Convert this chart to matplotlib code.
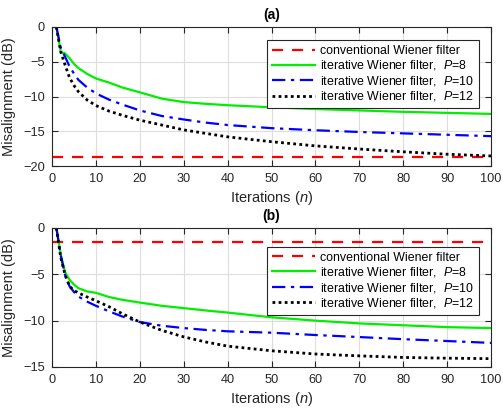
import numpy as np
import matplotlib
matplotlib.use('Agg')
import matplotlib.pyplot as plt

plt.rcParams['font.family'] = ['Liberation Sans', 'DejaVu Sans']
plt.rcParams['mathtext.fontset'] = 'custom'
plt.rcParams['mathtext.it'] = 'Liberation Sans:italic'
plt.rcParams['mathtext.rm'] = 'Liberation Sans'

n_pts = [1, 2, 3, 4, 5, 6, 8, 10, 13, 16, 20, 25, 30, 35, 40, 50, 60, 70, 80, 90, 100]

# (a)
wiener_a = -18.7
p8_a = [0, -3.6, -3.8, -4.5, -5.3, -5.9, -6.75, -7.4, -8.0, -8.7, -9.4, -10.3, -10.8, -11.05, -11.25,
        -11.55, -11.8, -12.0, -12.2, -12.35, -12.5]
p10_a = [0, -3.0, -4.3, -5.7, -6.7, -7.6, -8.7, -9.55, -10.45, -11.15, -12.0, -12.8, -13.3, -13.75, -14.1,
         -14.55, -14.85, -15.1, -15.3, -15.5, -15.7]
p12_a = [0, -3.6, -5.5, -7.3, -8.4, -9.3, -10.5, -11.3, -12.1, -12.7, -13.4, -14.1, -14.8, -15.3, -15.8,
         -16.5, -17.1, -17.55, -17.95, -18.3, -18.55]

# (b)
wiener_b = -1.55
p8_b = [0, -2.9, -4.8, -5.6, -6.1, -6.5, -6.85, -7.0, -7.45, -7.75, -8.05, -8.4, -8.65, -8.9, -9.13,
        -9.64, -10.0, -10.3, -10.5, -10.7, -10.8]
p10_b = [0, -3.0, -5.1, -6.3, -6.9, -7.4, -7.95, -8.4, -9.0, -9.55, -10.15, -10.55, -10.8, -11.0, -11.15,
         -11.3, -11.55, -11.77, -12.0, -12.2, -12.4]
p12_b = [0, -3.2, -5.1, -6.3, -6.75, -7.0, -7.45, -7.85, -8.5, -9.25, -10.15, -11.05, -11.75, -12.3, -12.75,
         -13.25, -13.6, -13.8, -13.97, -14.05, -14.1]

labels = ['conventional Wiener filter',
          'iterative Wiener filter,  $P$=8',
          'iterative Wiener filter,  $P$=10',
          'iterative Wiener filter,  $P$=12']

dark = '#262626'


def draw(ax, wiener, p8, p10, p12, ymin, yticks, title, leg_top):
    ax.plot([0, 100], [wiener, wiener], color='#ff0000', ls=(0, (5, 4)), lw=1.6, label=labels[0])
    ax.plot(n_pts, p8, color='#00ee00', ls='-', lw=1.6, label=labels[1])
    ax.plot(n_pts, p10, color='#0000ff', ls=(0, (6, 2.5, 1.5, 2.5)), lw=1.6, label=labels[2])
    ax.plot(n_pts, p12, color='black', ls=(0, (1, 1.2)), lw=2.0, label=labels[3])
    ax.set_xlim(0, 100)
    ax.set_ylim(ymin, 0)
    ax.set_xticks(range(0, 101, 10))
    ax.set_yticks(yticks)
    ax.grid(True, color='#dddddd', lw=0.8)
    ax.set_axisbelow(True)
    ax.tick_params(direction='in', top=True, right=True, colors=dark, labelsize=9.2,
                   length=4, width=0.8, pad=5)
    for s in ax.spines.values():
        s.set_color(dark)
        s.set_linewidth(0.8)
    ax.set_xlabel('Iterations ($n$)', fontsize=10.5, color=dark, labelpad=3)
    ax.set_ylabel('Misalignment (dB)', fontsize=10.5, color=dark, labelpad=5)
    ax.set_title(title, fontsize=10, fontweight='bold', pad=6)
    leg = ax.legend(loc='upper right', bbox_to_anchor=(0.9727, leg_top), borderaxespad=0,
                    fontsize=8.9, handlelength=3.5, handletextpad=0.4, labelspacing=0.12,
                    borderpad=0.4, fancybox=False, framealpha=1, edgecolor=dark)
    leg.get_frame().set_linewidth(0.8)


fig = plt.figure(figsize=(5.03, 4.09), dpi=100)
ax1 = fig.add_axes([0.1034, 0.594, 0.8728, 0.340])
ax2 = fig.add_axes([0.1034, 0.1027, 0.8728, 0.340])

draw(ax1, wiener_a, p8_a, p10_a, p12_a, -20, range(-20, 1, 5), '(a)', 0.906)
draw(ax2, wiener_b, p8_b, p10_b, p12_b, -15, range(-15, 1, 5), '(b)', 0.865)

fig.savefig('out.png', dpi=100)
